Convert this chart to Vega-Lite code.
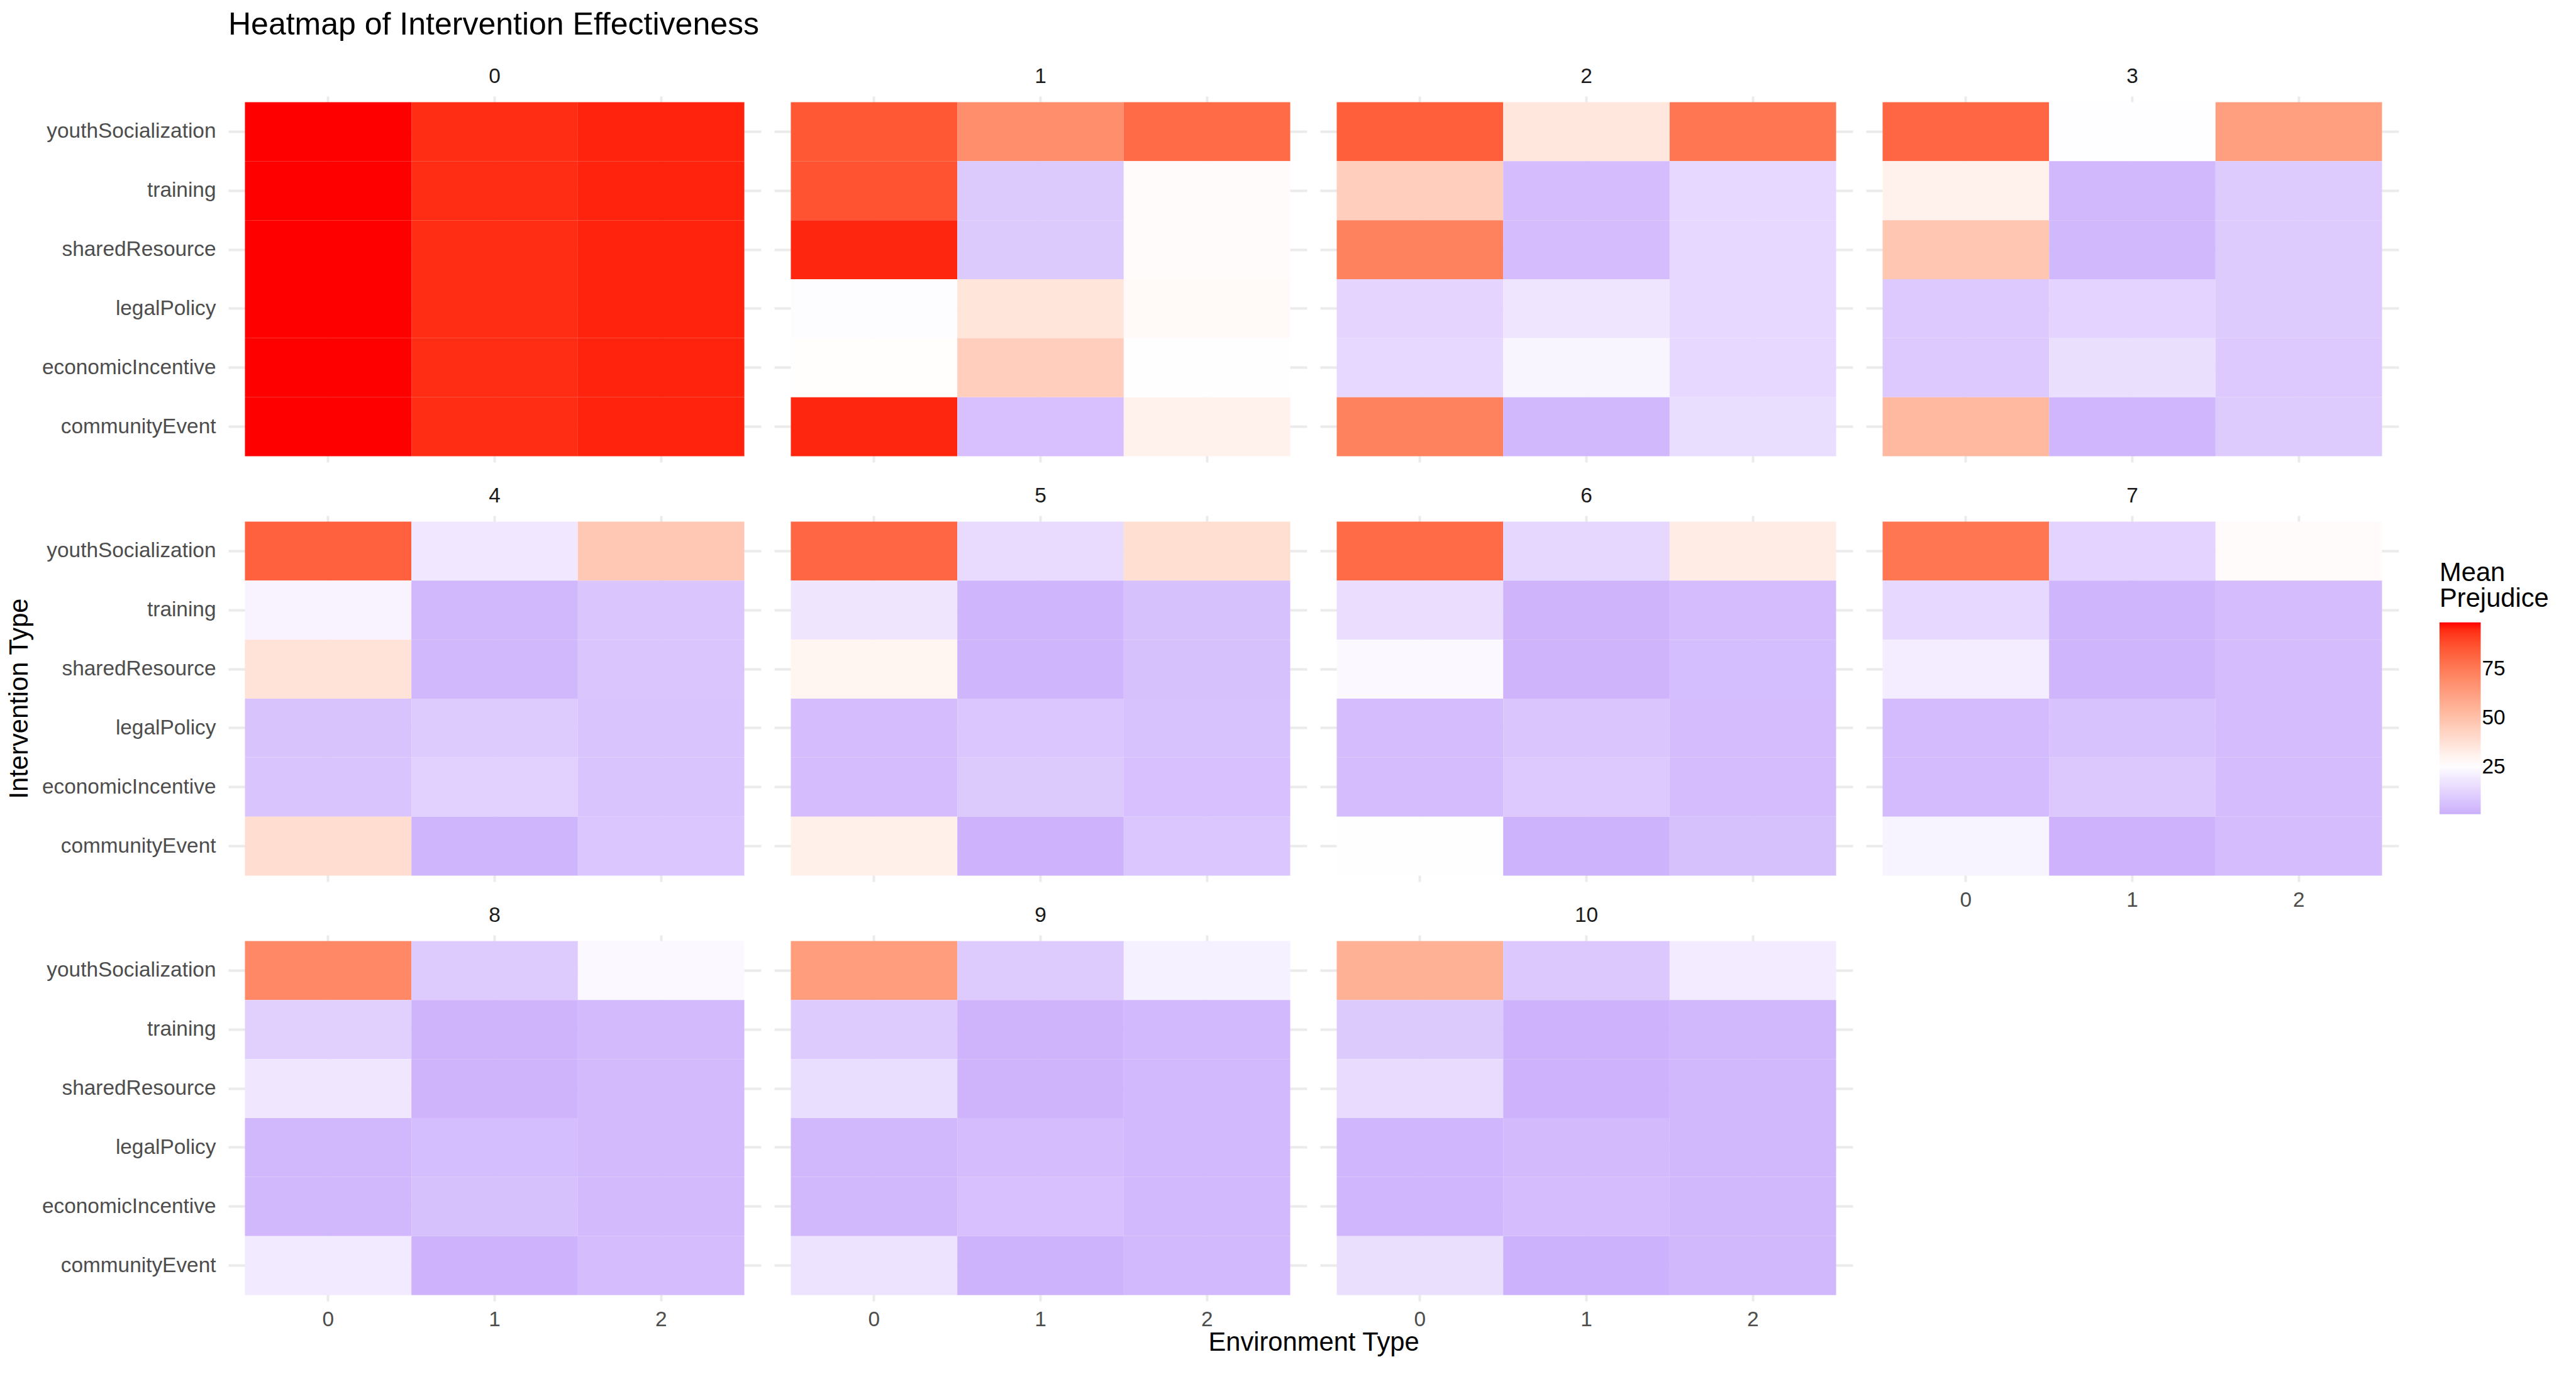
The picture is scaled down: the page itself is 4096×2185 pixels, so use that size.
{
  "$schema": "https://vega.github.io/schema/vega-lite/v6.json",
  "padding": {"left": 0, "top": 14, "right": 5, "bottom": 5},
  "title": {"text": "Heatmap of Intervention Effectiveness", "anchor": "start", "frame": "bounds", "dx": 363, "fontSize": 50, "font": "Liberation Sans", "fontWeight": "normal", "color": "#000000", "offset": 40},
  "config": {
    "view": {"stroke": null},
    "font": "Liberation Sans",
    "title": {"fontSize": 33.4, "font": "Liberation Sans", "fontWeight": "normal", "color": "#1A1A1A", "offset": 14, "anchor": "middle"},
    "axis": {"ticks": false, "domain": false, "labelFontSize": 33.4, "labelFont": "Liberation Sans", "labelColor": "#4D4D4D", "gridColor": "#EBEBEB", "gridWidth": 4, "bandPosition": 0.5},
    "axisX": {"labelAngle": 0, "labelPadding": 13},
    "axisY": {"labelPadding": 20, "labelLimit": 0},
    "legend": {
      "orient": "none", "legendX": 3879, "legendY": 738,
      "titleFontSize": 41.7, "titleFont": "Liberation Sans", "titleFontWeight": "normal", "titleColor": "#000000", "titleLineHeight": 41, "titlePadding": 16,
      "gradientLength": 305, "gradientThickness": 65.5, "gradientStrokeWidth": 0,
      "labelFontSize": 33.4, "labelFont": "Liberation Sans", "labelColor": "#000000", "labelOffset": 21
    }
  },
  "datasets": {
    "ytitle": [{"t": "Intervention Type"}],
    "xtitle": [{"t": "Environment Type"}],
    "cells": [
      {"p":0,"e":0,"i":"youthSocialization","v":99},{"p":0,"e":1,"i":"youthSocialization","v":95},{"p":0,"e":2,"i":"youthSocialization","v":96.4},
      {"p":0,"e":0,"i":"training","v":99},{"p":0,"e":1,"i":"training","v":95},{"p":0,"e":2,"i":"training","v":96.4},
      {"p":0,"e":0,"i":"sharedResource","v":99},{"p":0,"e":1,"i":"sharedResource","v":95},{"p":0,"e":2,"i":"sharedResource","v":96.4},
      {"p":0,"e":0,"i":"legalPolicy","v":99},{"p":0,"e":1,"i":"legalPolicy","v":95},{"p":0,"e":2,"i":"legalPolicy","v":96.4},
      {"p":0,"e":0,"i":"economicIncentive","v":99},{"p":0,"e":1,"i":"economicIncentive","v":95},{"p":0,"e":2,"i":"economicIncentive","v":96.4},
      {"p":0,"e":0,"i":"communityEvent","v":99},{"p":0,"e":1,"i":"communityEvent","v":95},{"p":0,"e":2,"i":"communityEvent","v":96.4},

      {"p":1,"e":0,"i":"youthSocialization","v":85.7},{"p":1,"e":1,"i":"youthSocialization","v":68.6},{"p":1,"e":2,"i":"youthSocialization","v":80},
      {"p":1,"e":0,"i":"training","v":87},{"p":1,"e":1,"i":"training","v":9.4},{"p":1,"e":2,"i":"training","v":27.5},
      {"p":1,"e":0,"i":"sharedResource","v":96},{"p":1,"e":1,"i":"sharedResource","v":9.4},{"p":1,"e":2,"i":"sharedResource","v":27.5},
      {"p":1,"e":0,"i":"legalPolicy","v":25},{"p":1,"e":1,"i":"legalPolicy","v":36.3},{"p":1,"e":2,"i":"legalPolicy","v":28.2},
      {"p":1,"e":0,"i":"economicIncentive","v":26.5},{"p":1,"e":1,"i":"economicIncentive","v":45},{"p":1,"e":2,"i":"economicIncentive","v":26.3},
      {"p":1,"e":0,"i":"communityEvent","v":96},{"p":1,"e":1,"i":"communityEvent","v":6.3},{"p":1,"e":2,"i":"communityEvent","v":31},

      {"p":2,"e":0,"i":"youthSocialization","v":83.7},{"p":2,"e":1,"i":"youthSocialization","v":35.5},{"p":2,"e":2,"i":"youthSocialization","v":76.6},
      {"p":2,"e":0,"i":"training","v":45},{"p":2,"e":1,"i":"training","v":5.1},{"p":2,"e":2,"i":"training","v":13.8},
      {"p":2,"e":0,"i":"sharedResource","v":72.6},{"p":2,"e":1,"i":"sharedResource","v":5.1},{"p":2,"e":2,"i":"sharedResource","v":13.8},
      {"p":2,"e":0,"i":"legalPolicy","v":12.6},{"p":2,"e":1,"i":"legalPolicy","v":17.9},{"p":2,"e":2,"i":"legalPolicy","v":13.8},
      {"p":2,"e":0,"i":"economicIncentive","v":13.8},{"p":2,"e":1,"i":"economicIncentive","v":22.9},{"p":2,"e":2,"i":"economicIncentive","v":13.8},
      {"p":2,"e":0,"i":"communityEvent","v":72.6},{"p":2,"e":1,"i":"communityEvent","v":3.8},{"p":2,"e":2,"i":"communityEvent","v":15.7},

      {"p":3,"e":0,"i":"youthSocialization","v":81.5},{"p":3,"e":1,"i":"youthSocialization","v":25.5},{"p":3,"e":2,"i":"youthSocialization","v":62.5},
      {"p":3,"e":0,"i":"training","v":31},{"p":3,"e":1,"i":"training","v":3.8},{"p":3,"e":2,"i":"training","v":9.8},
      {"p":3,"e":0,"i":"sharedResource","v":48},{"p":3,"e":1,"i":"sharedResource","v":3.8},{"p":3,"e":2,"i":"sharedResource","v":9.8},
      {"p":3,"e":0,"i":"legalPolicy","v":9.1},{"p":3,"e":1,"i":"legalPolicy","v":12.3},{"p":3,"e":2,"i":"legalPolicy","v":9.8},
      {"p":3,"e":0,"i":"economicIncentive","v":9.1},{"p":3,"e":1,"i":"economicIncentive","v":16},{"p":3,"e":2,"i":"economicIncentive","v":9.1},
      {"p":3,"e":0,"i":"communityEvent","v":52.8},{"p":3,"e":1,"i":"communityEvent","v":3.2},{"p":3,"e":2,"i":"communityEvent","v":10},

      {"p":4,"e":0,"i":"youthSocialization","v":83},{"p":4,"e":1,"i":"youthSocialization","v":18.8},{"p":4,"e":2,"i":"youthSocialization","v":47.3},
      {"p":4,"e":0,"i":"training","v":22.3},{"p":4,"e":1,"i":"training","v":3.5},{"p":4,"e":2,"i":"training","v":7.9},
      {"p":4,"e":0,"i":"sharedResource","v":37},{"p":4,"e":1,"i":"sharedResource","v":3.5},{"p":4,"e":2,"i":"sharedResource","v":7.9},
      {"p":4,"e":0,"i":"legalPolicy","v":7.3},{"p":4,"e":1,"i":"legalPolicy","v":9.8},{"p":4,"e":2,"i":"legalPolicy","v":7.6},
      {"p":4,"e":0,"i":"economicIncentive","v":7.6},{"p":4,"e":1,"i":"economicIncentive","v":11.9},{"p":4,"e":2,"i":"economicIncentive","v":7.6},
      {"p":4,"e":0,"i":"communityEvent","v":39},{"p":4,"e":1,"i":"communityEvent","v":2.9},{"p":4,"e":2,"i":"communityEvent","v":8.5},

      {"p":5,"e":0,"i":"youthSocialization","v":81.5},{"p":5,"e":1,"i":"youthSocialization","v":15},{"p":5,"e":2,"i":"youthSocialization","v":38.5},
      {"p":5,"e":0,"i":"training","v":18.2},{"p":5,"e":1,"i":"training","v":2.9},{"p":5,"e":2,"i":"training","v":6.6},
      {"p":5,"e":0,"i":"sharedResource","v":29.6},{"p":5,"e":1,"i":"sharedResource","v":2.9},{"p":5,"e":2,"i":"sharedResource","v":6.6},
      {"p":5,"e":0,"i":"legalPolicy","v":5.4},{"p":5,"e":1,"i":"legalPolicy","v":8.5},{"p":5,"e":2,"i":"legalPolicy","v":6.9},
      {"p":5,"e":0,"i":"economicIncentive","v":5.4},{"p":5,"e":1,"i":"economicIncentive","v":9.4},{"p":5,"e":2,"i":"economicIncentive","v":6.3},
      {"p":5,"e":0,"i":"communityEvent","v":31.8},{"p":5,"e":1,"i":"communityEvent","v":2.3},{"p":5,"e":2,"i":"communityEvent","v":8.2},

      {"p":6,"e":0,"i":"youthSocialization","v":80},{"p":6,"e":1,"i":"youthSocialization","v":13.5},{"p":6,"e":2,"i":"youthSocialization","v":33.3},
      {"p":6,"e":0,"i":"training","v":15.4},{"p":6,"e":1,"i":"training","v":2.6},{"p":6,"e":2,"i":"training","v":5.4},
      {"p":6,"e":0,"i":"sharedResource","v":24.1},{"p":6,"e":1,"i":"sharedResource","v":2.6},{"p":6,"e":2,"i":"sharedResource","v":5.7},
      {"p":6,"e":0,"i":"legalPolicy","v":5.4},{"p":6,"e":1,"i":"legalPolicy","v":7.9},{"p":6,"e":2,"i":"legalPolicy","v":5.4},
      {"p":6,"e":0,"i":"economicIncentive","v":5.4},{"p":6,"e":1,"i":"economicIncentive","v":9.1},{"p":6,"e":2,"i":"economicIncentive","v":5.1},
      {"p":6,"e":0,"i":"communityEvent","v":26.3},{"p":6,"e":1,"i":"communityEvent","v":1.9},{"p":6,"e":2,"i":"communityEvent","v":6.6},

      {"p":7,"e":0,"i":"youthSocialization","v":76.6},{"p":7,"e":1,"i":"youthSocialization","v":12.3},{"p":7,"e":2,"i":"youthSocialization","v":27.5},
      {"p":7,"e":0,"i":"training","v":13.8},{"p":7,"e":1,"i":"training","v":2.9},{"p":7,"e":2,"i":"training","v":5.4},
      {"p":7,"e":0,"i":"sharedResource","v":20.4},{"p":7,"e":1,"i":"sharedResource","v":2.9},{"p":7,"e":2,"i":"sharedResource","v":5.4},
      {"p":7,"e":0,"i":"legalPolicy","v":4.8},{"p":7,"e":1,"i":"legalPolicy","v":6.9},{"p":7,"e":2,"i":"legalPolicy","v":5.1},
      {"p":7,"e":0,"i":"economicIncentive","v":4.8},{"p":7,"e":1,"i":"economicIncentive","v":8.8},{"p":7,"e":2,"i":"economicIncentive","v":5.1},
      {"p":7,"e":0,"i":"communityEvent","v":22.6},{"p":7,"e":1,"i":"communityEvent","v":2.3},{"p":7,"e":2,"i":"communityEvent","v":5.4},

      {"p":8,"e":0,"i":"youthSocialization","v":70.5},{"p":8,"e":1,"i":"youthSocialization","v":9.8},{"p":8,"e":2,"i":"youthSocialization","v":23.8},
      {"p":8,"e":0,"i":"training","v":11.3},{"p":8,"e":1,"i":"training","v":2.6},{"p":8,"e":2,"i":"training","v":4.4},
      {"p":8,"e":0,"i":"sharedResource","v":18.5},{"p":8,"e":1,"i":"sharedResource","v":2.6},{"p":8,"e":2,"i":"sharedResource","v":4.4},
      {"p":8,"e":0,"i":"legalPolicy","v":3.8},{"p":8,"e":1,"i":"legalPolicy","v":5.7},{"p":8,"e":2,"i":"legalPolicy","v":4.4},
      {"p":8,"e":0,"i":"economicIncentive","v":3.8},{"p":8,"e":1,"i":"economicIncentive","v":6.6},{"p":8,"e":2,"i":"economicIncentive","v":4.4},
      {"p":8,"e":0,"i":"communityEvent","v":19.4},{"p":8,"e":1,"i":"communityEvent","v":2.3},{"p":8,"e":2,"i":"communityEvent","v":5.1},

      {"p":9,"e":0,"i":"youthSocialization","v":63.4},{"p":9,"e":1,"i":"youthSocialization","v":9.8},{"p":9,"e":2,"i":"youthSocialization","v":21.6},
      {"p":9,"e":0,"i":"training","v":9.8},{"p":9,"e":1,"i":"training","v":2.6},{"p":9,"e":2,"i":"training","v":4.1},
      {"p":9,"e":0,"i":"sharedResource","v":15.7},{"p":9,"e":1,"i":"sharedResource","v":2.6},{"p":9,"e":2,"i":"sharedResource","v":4.1},
      {"p":9,"e":0,"i":"legalPolicy","v":3.8},{"p":9,"e":1,"i":"legalPolicy","v":5.4},{"p":9,"e":2,"i":"legalPolicy","v":4.1},
      {"p":9,"e":0,"i":"economicIncentive","v":3.8},{"p":9,"e":1,"i":"economicIncentive","v":6.3},{"p":9,"e":2,"i":"economicIncentive","v":4.1},
      {"p":9,"e":0,"i":"communityEvent","v":17.3},{"p":9,"e":1,"i":"communityEvent","v":1.9},{"p":9,"e":2,"i":"communityEvent","v":4.1},

      {"p":10,"e":0,"i":"youthSocialization","v":56},{"p":10,"e":1,"i":"youthSocialization","v":8.8},{"p":10,"e":2,"i":"youthSocialization","v":20},
      {"p":10,"e":0,"i":"training","v":9.4},{"p":10,"e":1,"i":"training","v":2.3},{"p":10,"e":2,"i":"training","v":3.8},
      {"p":10,"e":0,"i":"sharedResource","v":15},{"p":10,"e":1,"i":"sharedResource","v":2.3},{"p":10,"e":2,"i":"sharedResource","v":3.8},
      {"p":10,"e":0,"i":"legalPolicy","v":3.2},{"p":10,"e":1,"i":"legalPolicy","v":4.4},{"p":10,"e":2,"i":"legalPolicy","v":3.8},
      {"p":10,"e":0,"i":"economicIncentive","v":3.2},{"p":10,"e":1,"i":"economicIncentive","v":5.1},{"p":10,"e":2,"i":"economicIncentive","v":3.8},
      {"p":10,"e":0,"i":"communityEvent","v":16},{"p":10,"e":1,"i":"communityEvent","v":1.6},{"p":10,"e":2,"i":"communityEvent","v":3.8}
    ]
  },
  "bounds": "flush",
  "spacing": 301,
  "hconcat": [
    {
      "data": {"name": "ytitle"},
      "width": 62,
      "height": 1916,
      "mark": {"type": "text", "angle": 270, "fontSize": 41.7, "font": "Liberation Sans", "color": "#000000", "align": "center", "baseline": "middle"},
      "encoding": {"text": {"field": "t", "type": "nominal"}}
    },
    {
      "spacing": 0,
      "vconcat": [
        {
          "data": {"name": "cells"},
          "columns": 4,
          "bounds": "flush",
          "spacing": {"row": 85, "column": 21},
          "concat": [
            {"title": "0", "transform": [{"filter": "datum.p == 0"}], "width": 847, "height": 582, "mark": {"type": "rect"},
             "encoding": {
               "x": {"field": "e", "type": "ordinal", "title": null, "scale": {"paddingInner": 0, "paddingOuter": 0.1}, "axis": {"labels": false, "grid": true, "zindex": 0}},
               "y": {"field": "i", "type": "ordinal", "title": null, "sort": ["youthSocialization", "training", "sharedResource", "legalPolicy", "economicIncentive", "communityEvent"], "scale": {"paddingInner": 0, "paddingOuter": 0.1}, "axis": {"labels": true, "grid": true, "zindex": 0}},
               "color": {"field": "v", "type": "quantitative", "scale": {"domain": [1, 26, 99], "range": ["#cbaffc", "#ffffff", "#ff0000"], "interpolate": "lab"}, "legend": {"type": "gradient", "title": ["Mean", "Prejudice"], "values": [25, 50, 75]}}
             }},
            {"title": "1", "transform": [{"filter": "datum.p == 1"}], "width": 847, "height": 582, "mark": {"type": "rect"},
             "encoding": {
               "x": {"field": "e", "type": "ordinal", "title": null, "scale": {"paddingInner": 0, "paddingOuter": 0.1}, "axis": {"labels": false, "grid": true, "zindex": 0}},
               "y": {"field": "i", "type": "ordinal", "title": null, "sort": ["youthSocialization", "training", "sharedResource", "legalPolicy", "economicIncentive", "communityEvent"], "scale": {"paddingInner": 0, "paddingOuter": 0.1}, "axis": {"labels": false, "grid": true, "zindex": 0}},
               "color": {"field": "v", "type": "quantitative", "scale": {"domain": [1, 26, 99], "range": ["#cbaffc", "#ffffff", "#ff0000"], "interpolate": "lab"}, "legend": {"type": "gradient", "title": ["Mean", "Prejudice"], "values": [25, 50, 75]}}
             }},
            {"title": "2", "transform": [{"filter": "datum.p == 2"}], "width": 847, "height": 582, "mark": {"type": "rect"},
             "encoding": {
               "x": {"field": "e", "type": "ordinal", "title": null, "scale": {"paddingInner": 0, "paddingOuter": 0.1}, "axis": {"labels": false, "grid": true, "zindex": 0}},
               "y": {"field": "i", "type": "ordinal", "title": null, "sort": ["youthSocialization", "training", "sharedResource", "legalPolicy", "economicIncentive", "communityEvent"], "scale": {"paddingInner": 0, "paddingOuter": 0.1}, "axis": {"labels": false, "grid": true, "zindex": 0}},
               "color": {"field": "v", "type": "quantitative", "scale": {"domain": [1, 26, 99], "range": ["#cbaffc", "#ffffff", "#ff0000"], "interpolate": "lab"}, "legend": {"type": "gradient", "title": ["Mean", "Prejudice"], "values": [25, 50, 75]}}
             }},
            {"title": "3", "transform": [{"filter": "datum.p == 3"}], "width": 847, "height": 582, "mark": {"type": "rect"},
             "encoding": {
               "x": {"field": "e", "type": "ordinal", "title": null, "scale": {"paddingInner": 0, "paddingOuter": 0.1}, "axis": {"labels": false, "grid": true, "zindex": 0}},
               "y": {"field": "i", "type": "ordinal", "title": null, "sort": ["youthSocialization", "training", "sharedResource", "legalPolicy", "economicIncentive", "communityEvent"], "scale": {"paddingInner": 0, "paddingOuter": 0.1}, "axis": {"labels": false, "grid": true, "zindex": 0}},
               "color": {"field": "v", "type": "quantitative", "scale": {"domain": [1, 26, 99], "range": ["#cbaffc", "#ffffff", "#ff0000"], "interpolate": "lab"}, "legend": {"type": "gradient", "title": ["Mean", "Prejudice"], "values": [25, 50, 75]}}
             }},
            {"title": "4", "transform": [{"filter": "datum.p == 4"}], "width": 847, "height": 582, "mark": {"type": "rect"},
             "encoding": {
               "x": {"field": "e", "type": "ordinal", "title": null, "scale": {"paddingInner": 0, "paddingOuter": 0.1}, "axis": {"labels": false, "grid": true, "zindex": 0}},
               "y": {"field": "i", "type": "ordinal", "title": null, "sort": ["youthSocialization", "training", "sharedResource", "legalPolicy", "economicIncentive", "communityEvent"], "scale": {"paddingInner": 0, "paddingOuter": 0.1}, "axis": {"labels": true, "grid": true, "zindex": 0}},
               "color": {"field": "v", "type": "quantitative", "scale": {"domain": [1, 26, 99], "range": ["#cbaffc", "#ffffff", "#ff0000"], "interpolate": "lab"}, "legend": {"type": "gradient", "title": ["Mean", "Prejudice"], "values": [25, 50, 75]}}
             }},
            {"title": "5", "transform": [{"filter": "datum.p == 5"}], "width": 847, "height": 582, "mark": {"type": "rect"},
             "encoding": {
               "x": {"field": "e", "type": "ordinal", "title": null, "scale": {"paddingInner": 0, "paddingOuter": 0.1}, "axis": {"labels": false, "grid": true, "zindex": 0}},
               "y": {"field": "i", "type": "ordinal", "title": null, "sort": ["youthSocialization", "training", "sharedResource", "legalPolicy", "economicIncentive", "communityEvent"], "scale": {"paddingInner": 0, "paddingOuter": 0.1}, "axis": {"labels": false, "grid": true, "zindex": 0}},
               "color": {"field": "v", "type": "quantitative", "scale": {"domain": [1, 26, 99], "range": ["#cbaffc", "#ffffff", "#ff0000"], "interpolate": "lab"}, "legend": {"type": "gradient", "title": ["Mean", "Prejudice"], "values": [25, 50, 75]}}
             }},
            {"title": "6", "transform": [{"filter": "datum.p == 6"}], "width": 847, "height": 582, "mark": {"type": "rect"},
             "encoding": {
               "x": {"field": "e", "type": "ordinal", "title": null, "scale": {"paddingInner": 0, "paddingOuter": 0.1}, "axis": {"labels": false, "grid": true, "zindex": 0}},
               "y": {"field": "i", "type": "ordinal", "title": null, "sort": ["youthSocialization", "training", "sharedResource", "legalPolicy", "economicIncentive", "communityEvent"], "scale": {"paddingInner": 0, "paddingOuter": 0.1}, "axis": {"labels": false, "grid": true, "zindex": 0}},
               "color": {"field": "v", "type": "quantitative", "scale": {"domain": [1, 26, 99], "range": ["#cbaffc", "#ffffff", "#ff0000"], "interpolate": "lab"}, "legend": {"type": "gradient", "title": ["Mean", "Prejudice"], "values": [25, 50, 75]}}
             }},
            {"title": "7", "transform": [{"filter": "datum.p == 7"}], "width": 847, "height": 582, "mark": {"type": "rect"},
             "encoding": {
               "x": {"field": "e", "type": "ordinal", "title": null, "scale": {"paddingInner": 0, "paddingOuter": 0.1}, "axis": {"labels": true, "grid": true, "zindex": 0}},
               "y": {"field": "i", "type": "ordinal", "title": null, "sort": ["youthSocialization", "training", "sharedResource", "legalPolicy", "economicIncentive", "communityEvent"], "scale": {"paddingInner": 0, "paddingOuter": 0.1}, "axis": {"labels": false, "grid": true, "zindex": 0}},
               "color": {"field": "v", "type": "quantitative", "scale": {"domain": [1, 26, 99], "range": ["#cbaffc", "#ffffff", "#ff0000"], "interpolate": "lab"}, "legend": {"type": "gradient", "title": ["Mean", "Prejudice"], "values": [25, 50, 75]}}
             }},
            {"title": "8", "transform": [{"filter": "datum.p == 8"}], "width": 847, "height": 582, "mark": {"type": "rect"},
             "encoding": {
               "x": {"field": "e", "type": "ordinal", "title": null, "scale": {"paddingInner": 0, "paddingOuter": 0.1}, "axis": {"labels": true, "grid": true, "zindex": 0}},
               "y": {"field": "i", "type": "ordinal", "title": null, "sort": ["youthSocialization", "training", "sharedResource", "legalPolicy", "economicIncentive", "communityEvent"], "scale": {"paddingInner": 0, "paddingOuter": 0.1}, "axis": {"labels": true, "grid": true, "zindex": 0}},
               "color": {"field": "v", "type": "quantitative", "scale": {"domain": [1, 26, 99], "range": ["#cbaffc", "#ffffff", "#ff0000"], "interpolate": "lab"}, "legend": {"type": "gradient", "title": ["Mean", "Prejudice"], "values": [25, 50, 75]}}
             }},
            {"title": "9", "transform": [{"filter": "datum.p == 9"}], "width": 847, "height": 582, "mark": {"type": "rect"},
             "encoding": {
               "x": {"field": "e", "type": "ordinal", "title": null, "scale": {"paddingInner": 0, "paddingOuter": 0.1}, "axis": {"labels": true, "grid": true, "zindex": 0}},
               "y": {"field": "i", "type": "ordinal", "title": null, "sort": ["youthSocialization", "training", "sharedResource", "legalPolicy", "economicIncentive", "communityEvent"], "scale": {"paddingInner": 0, "paddingOuter": 0.1}, "axis": {"labels": false, "grid": true, "zindex": 0}},
               "color": {"field": "v", "type": "quantitative", "scale": {"domain": [1, 26, 99], "range": ["#cbaffc", "#ffffff", "#ff0000"], "interpolate": "lab"}, "legend": {"type": "gradient", "title": ["Mean", "Prejudice"], "values": [25, 50, 75]}}
             }},
            {"title": "10", "transform": [{"filter": "datum.p == 10"}], "width": 847, "height": 582, "mark": {"type": "rect"},
             "encoding": {
               "x": {"field": "e", "type": "ordinal", "title": null, "scale": {"paddingInner": 0, "paddingOuter": 0.1}, "axis": {"labels": true, "grid": true, "zindex": 0}},
               "y": {"field": "i", "type": "ordinal", "title": null, "sort": ["youthSocialization", "training", "sharedResource", "legalPolicy", "economicIncentive", "communityEvent"], "scale": {"paddingInner": 0, "paddingOuter": 0.1}, "axis": {"labels": false, "grid": true, "zindex": 0}},
               "color": {"field": "v", "type": "quantitative", "scale": {"domain": [1, 26, 99], "range": ["#cbaffc", "#ffffff", "#ff0000"], "interpolate": "lab"}, "legend": {"type": "gradient", "title": ["Mean", "Prejudice"], "values": [25, 50, 75]}}
             }}
          ]
        },
        {
          "data": {"name": "xtitle"},
          "width": 3452,
          "height": 40,
          "mark": {"type": "text", "fontSize": 41.7, "font": "Liberation Sans", "color": "#000000", "align": "center", "baseline": "middle"},
          "encoding": {"text": {"field": "t", "type": "nominal"}}
        }
      ]
    }
  ]
}
